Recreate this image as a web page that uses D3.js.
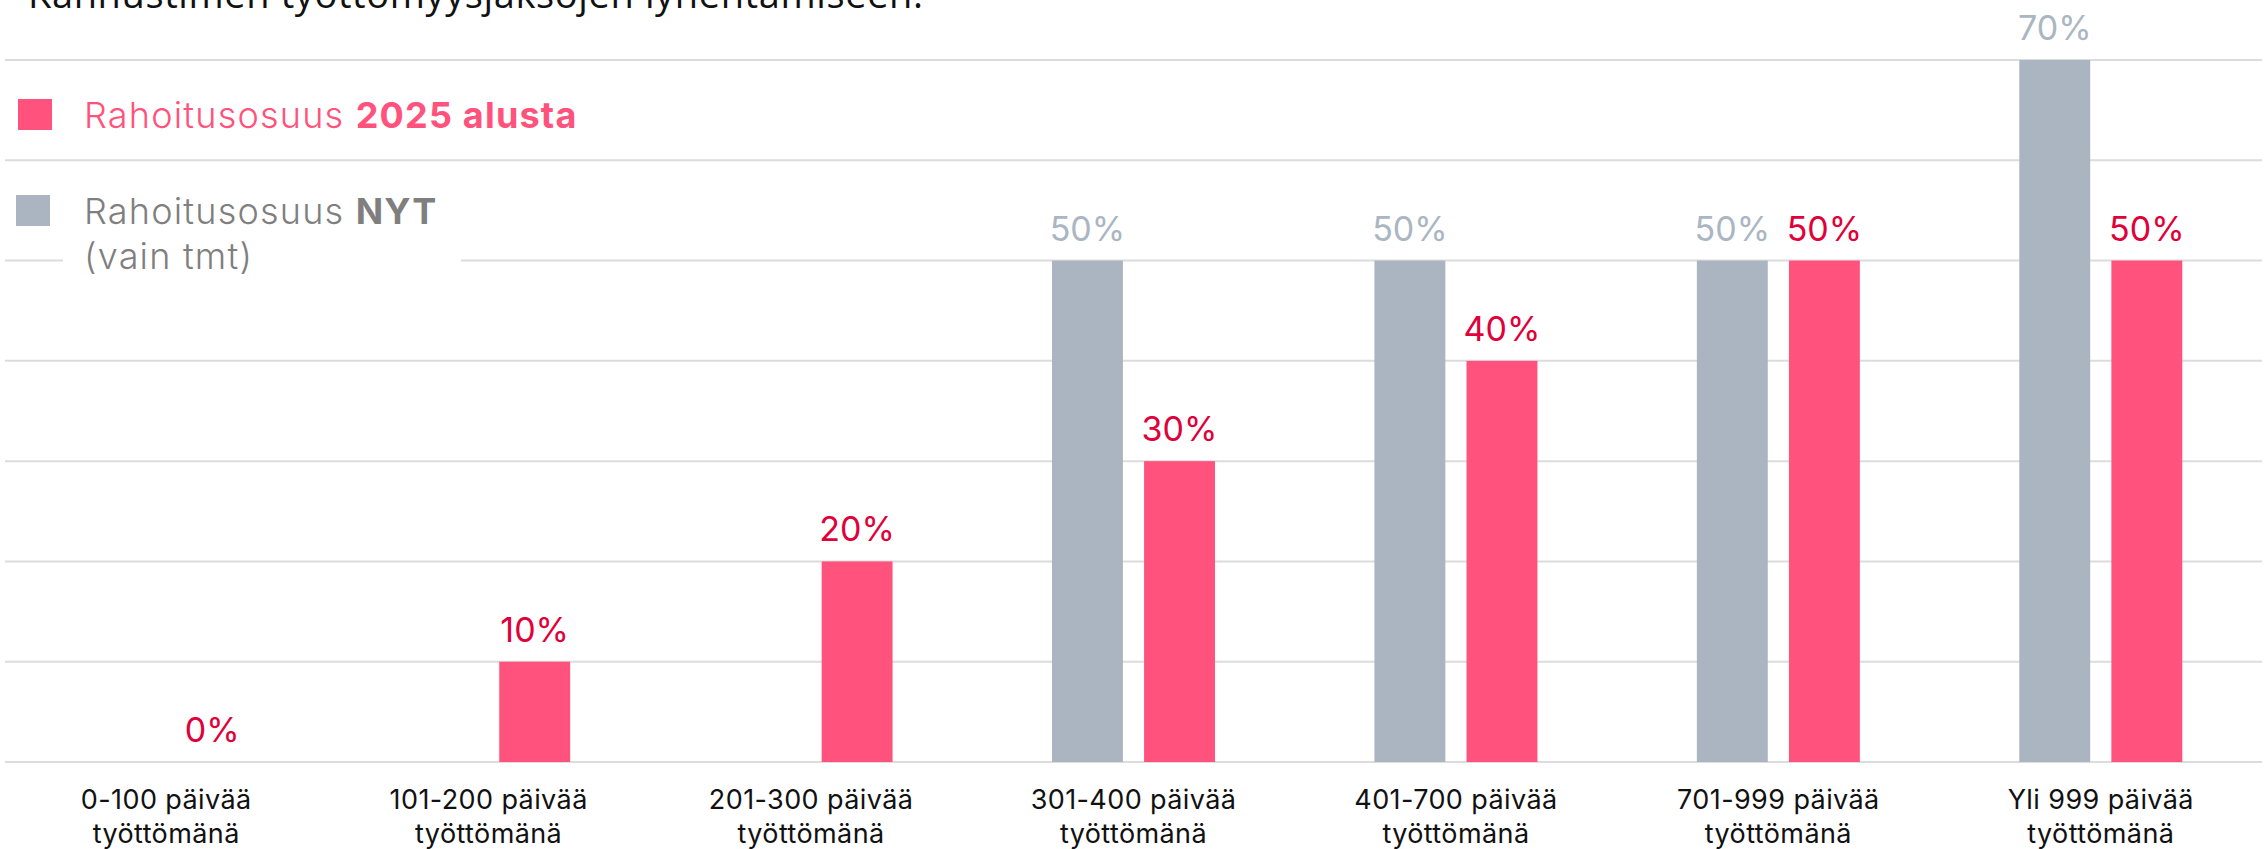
<!DOCTYPE html>
<html>
<head>
<meta charset="utf-8">
<script src="https://cdn.jsdelivr.net/npm/d3@7"></script>
<style>
  body { margin: 0; background: #fff; }
  svg { display: block; }
</style>
</head>
<body>
<div id="chart"></div>
<script>
// data
const categories = ["0-100 päivää", "101-200 päivää", "201-300 päivää", "301-400 päivää",
                    "401-700 päivää", "701-999 päivää", "Yli 999 päivää"];
const category_sub = "työttömänä";
const share_now = [null, null, null, 50, 50, 50, 70];     // Rahoitusosuus NYT (vain tmt)
const share_2025 = [0, 10, 20, 30, 40, 50, 50];           // Rahoitusosuus 2025 alusta
const grid_ticks = [0, 10, 20, 30, 40, 50, 60, 70];
const title_text = "Kannustimen työttömyysjaksojen lyhentämiseen.";

const colors = {
    now: "#aab5c1",
    now_label: "#aab6c2",
    new: "#ff527c",
    new_label: "#e0003a",
    legend_now: "#7f7f7f",
    grid: "#dcdcdc"
};

class funding_chart{

    constructor(div_id, width, height){
        var self = this;
        self.margin = {left: 5, right: 5, top: 60, bottom: 87}
        self.width = width;
        self.height = height;

        self.svg = d3.select(`#${div_id}`).append("svg")
            .attr("width", width)
            .attr("height", height)

        self.font = "Inter, 'Work Sans', sans-serif";

        self.xScale = d3.scaleBand()
            .domain(categories)
            .range([self.margin.left, width - self.margin.right])
            .padding(0)

        // two bars per category, centred in band
        self.pairWidth = 163;
        self.xSub = d3.scaleBand()
            .domain(["now", "new"])
            .range([0, self.pairWidth])
            .paddingInner(0.23)

        self.yScale = d3.scaleLinear()
            .domain([0, 70])
            .range([height - self.margin.bottom, self.margin.top])
    }

    draw(){
        var self = this;

        // cut-off title line at the very top
        self.svg.append("text")
            .attr("x", 28)
            .attr("y", 8)
            .attr("font-family", "'Open Sans', sans-serif")
            .attr("font-size", 38)
            .attr("textLength", 895)
            .attr("lengthAdjust", "spacing")
            .attr("fill", "#111")
            .text(title_text)

        // gridlines
        self.svg.append("g")
            .attr("class", "grid")
            .selectAll("line")
            .data(grid_ticks)
            .enter()
            .append("line")
                .attr("x1", self.margin.left)
                .attr("x2", self.width - self.margin.right)
                .attr("y1", d => self.yScale(d))
                .attr("y2", d => self.yScale(d))
                .attr("stroke", colors.grid)
                .attr("stroke-width", 2)

        let rows = categories.map((c, i) => ({cat: c, now: share_now[i], new: share_2025[i]}));

        let groups = self.svg.append("g")
            .attr("class", "bars")
            .selectAll("g")
            .data(rows)
            .enter()
            .append("g")
                .attr("transform", d => `translate(${self.xScale(d.cat) + self.xScale.bandwidth()/2 - self.pairWidth/2}, 0)`)

        let bw = self.xSub.bandwidth();

        ["now", "new"].forEach(key => {
            let sel = groups.filter(d => d[key] !== null);
            sel.filter(d => d[key] > 0).append("rect")
                .attr("x", self.xSub(key))
                .attr("width", bw)
                .attr("y", d => self.yScale(d[key]))
                .attr("height", d => self.yScale(0) - self.yScale(d[key]))
                .attr("fill", key == "now" ? colors.now : colors.new)

            sel.append("text")
                .attr("x", self.xSub(key) + bw/2)
                .attr("y", d => self.yScale(d[key]) - 20)
                .attr("text-anchor", "middle")
                .attr("font-family", self.font)
                .attr("font-size", 34)
                .attr("fill", key == "now" ? colors.now_label : colors.new_label)
                .text(d => d[key] + "%")
        })

        // category labels
        let xl = self.svg.append("g")
            .attr("class", "x-labels")
            .selectAll("text")
            .data(categories)
            .enter()
            .append("text")
                .attr("x", d => self.xScale(d) + self.xScale.bandwidth()/2)
                .attr("y", 809)
                .attr("text-anchor", "middle")
                .attr("font-family", self.font)
                .attr("font-size", 27)
                .attr("letter-spacing", 0.4)
                .attr("fill", "#111")
        xl.append("tspan").text(d => d)
        xl.append("tspan")
            .attr("x", d => self.xScale(d) + self.xScale.bandwidth()/2)
            .attr("dy", 34)
            .text(category_sub)

        self.draw_legend()
    }

    draw_legend(){
        var self = this;
        let lg = self.svg.append("g").attr("class", "legend")

        // white box behind second legend line covers the 50% gridline
        lg.append("rect")
            .attr("x", 63).attr("y", 236)
            .attr("width", 398).attr("height", 50)
            .attr("fill", "#fff")

        lg.append("rect")
            .attr("x", 18).attr("y", 99)
            .attr("width", 34).attr("height", 31)
            .attr("fill", colors.new)

        lg.append("rect")
            .attr("x", 16).attr("y", 195)
            .attr("width", 34).attr("height", 31)
            .attr("fill", colors.now)

        let t1 = lg.append("text")
            .attr("x", 84).attr("y", 128)
            .attr("font-family", self.font)
            .attr("font-size", 36)
            .attr("font-weight", 300)
            .attr("letter-spacing", 1.2)
            .attr("fill", colors.new)
        t1.append("tspan").text("Rahoitusosuus ")
        t1.append("tspan").attr("font-weight", 700).text("2025 alusta")

        let t2 = lg.append("text")
            .attr("x", 84).attr("y", 224)
            .attr("font-family", self.font)
            .attr("font-size", 36)
            .attr("font-weight", 300)
            .attr("letter-spacing", 1.2)
            .attr("fill", colors.legend_now)
        t2.append("tspan").text("Rahoitusosuus ")
        t2.append("tspan").attr("font-weight", 700).text("NYT")
        t2.append("tspan").attr("x", 84).attr("dy", 45).text("(vain tmt)")
    }
}

let chart = new funding_chart("chart", 2267, 849);
chart.draw();
</script>
</body>
</html>
